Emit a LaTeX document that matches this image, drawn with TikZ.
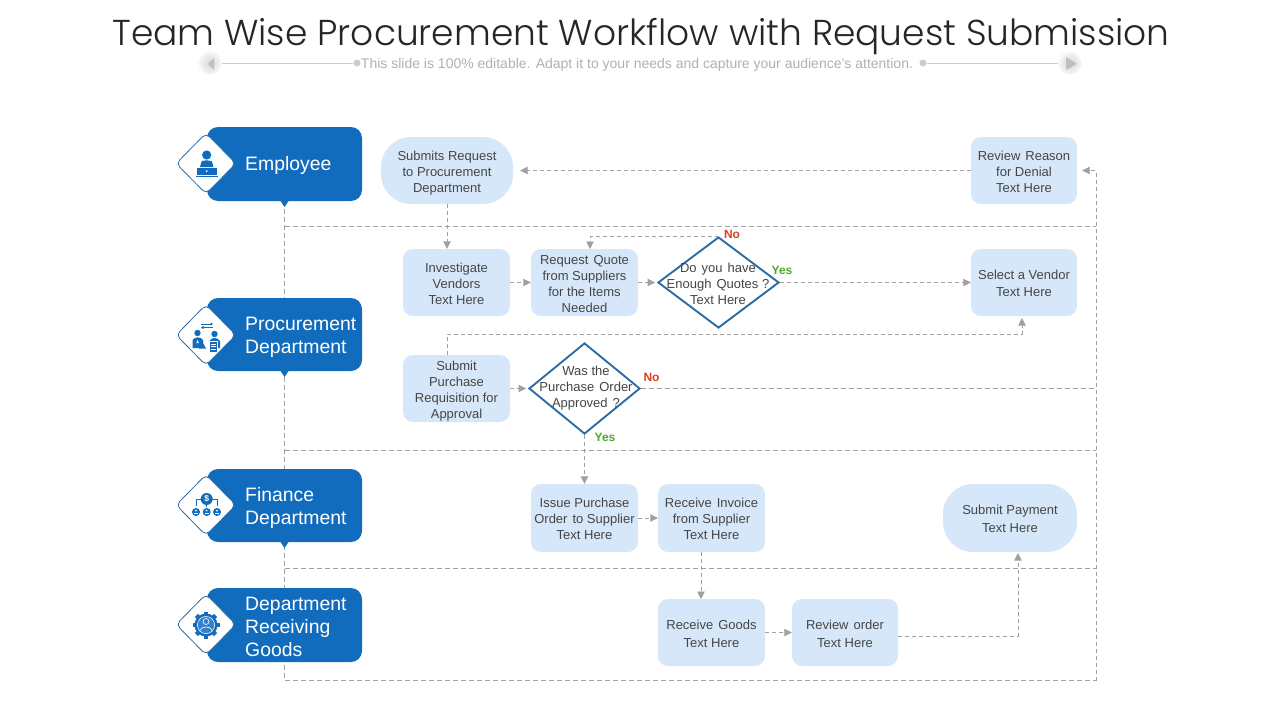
\documentclass[tikz,border=0pt]{standalone}
\usepackage{fontspec}
\setmainfont{Liberation Sans}
\newfontfamily\titlefont{Poppins Light}
\usetikzlibrary{arrows.meta,shapes.geometric,backgrounds}
\definecolor{hblue}{HTML}{116CBE}
\definecolor{boxblue}{HTML}{D6E7F9}
\definecolor{dline}{HTML}{2E6CA4}
\definecolor{txt}{HTML}{454545}
\definecolor{lane}{HTML}{A0A0A0}
\definecolor{yesg}{HTML}{4EA72E}
\definecolor{nor}{HTML}{D9401B}
\newcommand{\bt}[1]{\raisebox{-2.3pt}[\height][\depth]{\begin{tabular}{@{}c@{}}#1\end{tabular}}}
\newcommand{\wgap}{~\hspace{1.4pt}}
\tikzset{
 stepbox/.style={rectangle,rounded corners=10pt,fill=boxblue,text=txt,inner sep=0pt,
   font=\fontsize{13}{16}\selectfont},
 pillbox/.style={stepbox,rounded corners=30pt},
 decision/.style={diamond,aspect=1.33,draw=dline,line width=1.9pt,fill=white,inner sep=0pt},
 decisiontext/.style={text=txt,align=center,inner sep=0pt,font=\fontsize{13}{16}\selectfont},
 header/.style={rectangle,rounded corners=11pt,fill=hblue,minimum width=155pt,inner sep=0pt},
 headtext/.style={anchor=west,align=left,text=white,inner sep=0pt,font=\fontsize{19.4}{23}\selectfont},
 badge/.style={diamond,draw=dline,line width=0.8pt,fill=white,rounded corners=5pt,minimum width=60pt,minimum height=61pt,inner sep=0pt},
 tipmark/.style={fill=hblue,draw=none},
 flow/.style={draw=lane,line width=0.9pt,dash pattern=on 4pt off 3pt,-{Triangle[length=7.5pt,width=7.5pt,fill=lane]}},
 lanes/.style={draw=lane,line width=0.9pt,dash pattern=on 5pt off 3pt},
 flag/.style={font=\fontsize{12}{14}\bfseries\selectfont,inner sep=0pt},
 deco/.style={circle,shading=radial,inner color=black!16,outer color=black!3,minimum size=23pt,inner sep=0pt},
}
\begin{document}
\begin{tikzpicture}[x=1pt,y=-1pt]
\useasboundingbox (0,0) rectangle (1280,720);
% title
\node (title) at (641,37) {\titlefont\fontsize{36}{40}\selectfont\textcolor[HTML]{262626}{Team~Wise~Procurement~Workflow~with~Request~Submission}};
\node (subtitle) at (637,64.5) {\fontsize{14}{16}\selectfont\textcolor[HTML]{B0B0B0}{This slide is 100\% editable. Adapt it to your needs and capture your audience's attention.}};
\node[deco] (decoL) at (210,63) {};
\node[deco] (decoR) at (1070,63) {};
\node[circle,fill=black!20,minimum size=7pt,inner sep=0pt] (dotL) at (357,63) {};
\node[circle,fill=black!20,minimum size=7pt,inner sep=0pt] (dotR) at (923,63) {};
\draw[black!20,line width=0.8pt] (decoL.east) -- (dotL);
\draw[black!20,line width=0.8pt] (dotR) -- (decoR.west);
\fill[black!25] (208,64) -- (214,58) -- (214,70) -- cycle;
\fill[black!25] (1077,64) -- (1066,57) -- (1066,70) -- cycle;

% headers
\node[header,minimum height=74pt] (h1) at (284.5,164) {};
\node[header,minimum height=73pt] (h2) at (284.5,334.5) {};
\node[header,minimum height=73pt] (h3) at (284.5,505.5) {};
\node[header,minimum height=74pt] (h4) at (284.5,625) {};
\fill[tipmark] (280.5,201) -- (288.5,201) -- (284.5,207) -- cycle;
\fill[tipmark] (280.5,371) -- (288.5,371) -- (284.5,377) -- cycle;
\fill[tipmark] (280.5,542) -- (288.5,542) -- (284.5,548) -- cycle;
\node[headtext] (t1) at (245,165.5) {Employee};
\node[headtext] (t2) at (245,337) {Procurement\\Department};
\node[headtext] (t3) at (245,508) {Finance\\Department};
\node[headtext] (t4) at (245,627) {Department\\Receiving\\Goods};
\node[badge] (b1) at (206,163.5) {};
\node[badge] (b2) at (206,335) {};
\node[badge] (b3) at (206,505) {};
\node[badge] (b4) at (206,624.5) {};

% icon: employee
\fill[hblue] (206.7,155) circle (4.6);
\fill[hblue] (200,167) -- (201.5,161.5) .. controls (203,160) and (210,160) .. (212,161.5) -- (213.5,167) -- cycle;
\fill[hblue] (197,167.5) rectangle (217,175);
\fill[hblue] (196,175.8) rectangle (217.5,176.6);
\fill[white] (206.7,171.2) circle (1);
% icon: procurement
\fill[hblue] (197.5,333) circle (3.2);
\fill[hblue] (192.5,348) -- (192.5,340) .. controls (195,336.5) and (201,336.5) .. (203,340) -- (203,348) -- cycle;
\fill[hblue] (214.5,334) circle (3.2);
\fill[hblue] (209.5,348) -- (209.5,341) .. controls (211,337) and (218,337) .. (220,341) -- (220,348) -- cycle;
\fill[white] (197.5,340) -- (196.3,343) -- (198.7,343) -- cycle;
\fill[hblue] (202,341) -- (206,348.5) -- (199,348.5) -- cycle;
\draw[white,line width=0.5pt,fill=hblue] (209,341) rectangle (217,352);
\draw[white,line width=0.5pt] (210.5,344) -- (215.5,344) (210.5,346.5) -- (215.5,346.5) (210.5,349) -- (215.5,349);
\draw[hblue,line width=0.9pt,-{Triangle[length=2.5pt,width=3pt]}] (201,324) -- (213,324);
\draw[hblue,line width=0.9pt,-{Triangle[length=2.5pt,width=3pt]}] (213,327.5) -- (201,327.5);
% icon: finance
\draw[hblue,line width=0.7pt] (196,506) -- (196,499.5) -- (217,499.5) -- (217,506) (206.7,505) -- (206.7,507);
\fill[hblue] (206.7,499) circle (6);
\node[text=white,font=\fontsize{8.5}{9}\bfseries\selectfont,inner sep=0pt] (dollar) at (206.7,499) {\$};
\foreach \px in {196,206.7,217}{
 \fill[hblue] (\px,512) circle (4);
 \fill[white] (\px,510.5) circle (1);
 \fill[white] (\px-1.8,514.4) rectangle (\px+1.8,512.6);
}
% icon: gear
\fill[hblue] (206,625) circle (11.5);
\foreach \a in {0,45,...,315}{
 \fill[hblue,rotate around={\a:(206,625)}] (203.8,611.5) rectangle (208.2,617);
}
\fill[hblue!85!white] (206,625) circle (9);
\draw[white,line width=0.5pt] (206,625) circle (8.6);
\draw[white,line width=0.6pt] (206,621.5) circle (3);
\draw[white,line width=0.6pt] (199.5,631) .. controls (201,625.5) and (211,625.5) .. (212.5,631);

% process nodes
\node[pillbox,minimum width=132pt,minimum height=67pt] (submits) at (447,170.5) {\bt{Submits Request\\to Procurement\\Department}};
\node[stepbox,minimum width=106pt,minimum height=67pt] (review) at (1024,170.5) {\bt{Review\wgap Reason\\for Denial\\Text Here}};
\node[stepbox,minimum width=107pt,minimum height=67pt] (investigate) at (456.5,282.5) {\bt{Investigate\\Vendors\\Text Here}};
\node[stepbox,minimum width=107pt,minimum height=67pt] (request) at (584.5,282.5) {\bt{Request\wgap Quote\\from Suppliers\\for the Items\\Needed}};
\node[decision,minimum width=121pt,minimum height=91pt] (enough) at (718.5,282.5) {};
\node[decisiontext] (enought) at (718,283.5) {Do\wgap you\wgap have\\Enough\wgap Quotes ?\\Text Here};
\node[stepbox,minimum width=106pt,minimum height=67pt] (vendor) at (1024,282.5) {\bt{Select a Vendor\\[1pt]Text Here}};
\node[stepbox,minimum width=107pt,minimum height=67pt] (purchase) at (456.5,388.5) {\bt{Submit\\Purchase\\Requisition for\\Approval}};
\node[decision,minimum width=111pt,minimum height=91pt] (approved) at (584.5,388.5) {};
\node[decisiontext] (approvedt) at (586,388) {Was the\\Purchase\wgap Order\\Approved\wgap ?};
\node[stepbox,minimum width=107pt,minimum height=68pt] (issue) at (584.5,518) {\bt{Issue Purchase\\Order\wgap to Supplier\\Text Here}};
\node[stepbox,minimum width=107pt,minimum height=68pt] (invoice) at (711.5,518) {\bt{Receive\wgap Invoice\\from Supplier\\Text Here}};
\node[pillbox,minimum width=134pt,minimum height=68pt] (payment) at (1010,518) {\bt{Submit Payment\\[2pt]Text Here}};
\node[stepbox,minimum width=107pt,minimum height=67pt] (goods) at (711.5,632.5) {\bt{Receive\wgap Goods\\[2pt]Text Here}};
\node[stepbox,minimum width=106pt,minimum height=67pt] (revorder) at (845,632.5) {\bt{Review\wgap order\\[2pt]Text Here}};

% flags
\node[flag,text=nor] (no1) at (732,234.5) {No};
\node[flag,text=yesg] (yes1) at (782,270.5) {Yes};
\node[flag,text=nor] (no2) at (651.5,377.5) {No};
\node[flag,text=yesg] (yes2) at (605,437.5) {Yes};

% swimlanes
\coordinate (laneBL) at (284.5,680.5);
\coordinate (laneBR) at (1096,680.5);
\coordinate (a1) at (284.5,226.5);
\coordinate (a2) at (284.5,450.5);
\coordinate (a3) at (284.5,568.5);
\coordinate (reqIn) at (590,249);
\coordinate (prOut) at (447,355);
\coordinate (prBend) at (447,334);
\coordinate (venBend) at (1022,334);
\coordinate (venIn) at (1022,316);
\coordinate (invOut) at (701,552);
\coordinate (gdsIn) at (701,599);
\coordinate (revOut) at (898,636);
\coordinate (payBend) at (1018,636);
\coordinate (payIn) at (1018,552);
\begin{scope}[on background layer]
\draw[lanes] (h1.south) -- (laneBL) -- (laneBR);
\draw[lanes] (a1) -- (a1 -| laneBR);
\draw[lanes] (a2) -- (a2 -| laneBR);
\draw[lanes] (a3) -- (a3 -| laneBR);
\end{scope}
\draw[flow,shorten >=5pt] (laneBR) -- (laneBR |- review.east) -- (review.east);

% connectors
\draw[flow,shorten >=7pt] (review.west) -- (submits.east);
\draw[flow] (submits.south) -- (submits.south |- investigate.north);
\draw[flow] (investigate.east) -- (request.west);
\draw[flow,shorten >=2pt] (request.east) -- (enough.west);
\draw[flow] (enough.north) -- (enough.north -| reqIn) -- (reqIn);
\draw[flow] (enough.east) -- (vendor.west);
\draw[flow,shorten >=2pt] (prOut) -- (prBend) -- (venBend) -- (venIn);
\draw[flow,shorten >=2pt] (purchase.east) -- (approved.west);
\draw[lanes] (approved.east) -- (approved.east -| laneBR);
\draw[flow] (approved.south) -- (issue.north);
\draw[flow] (issue.east) -- (invoice.west);
\draw[flow] (invOut) -- (gdsIn);
\draw[flow] (goods.east) -- (revorder.west);
\draw[flow,shorten >=1pt] (revOut) -- (payBend) -- (payIn);
\end{tikzpicture}
\end{document}
